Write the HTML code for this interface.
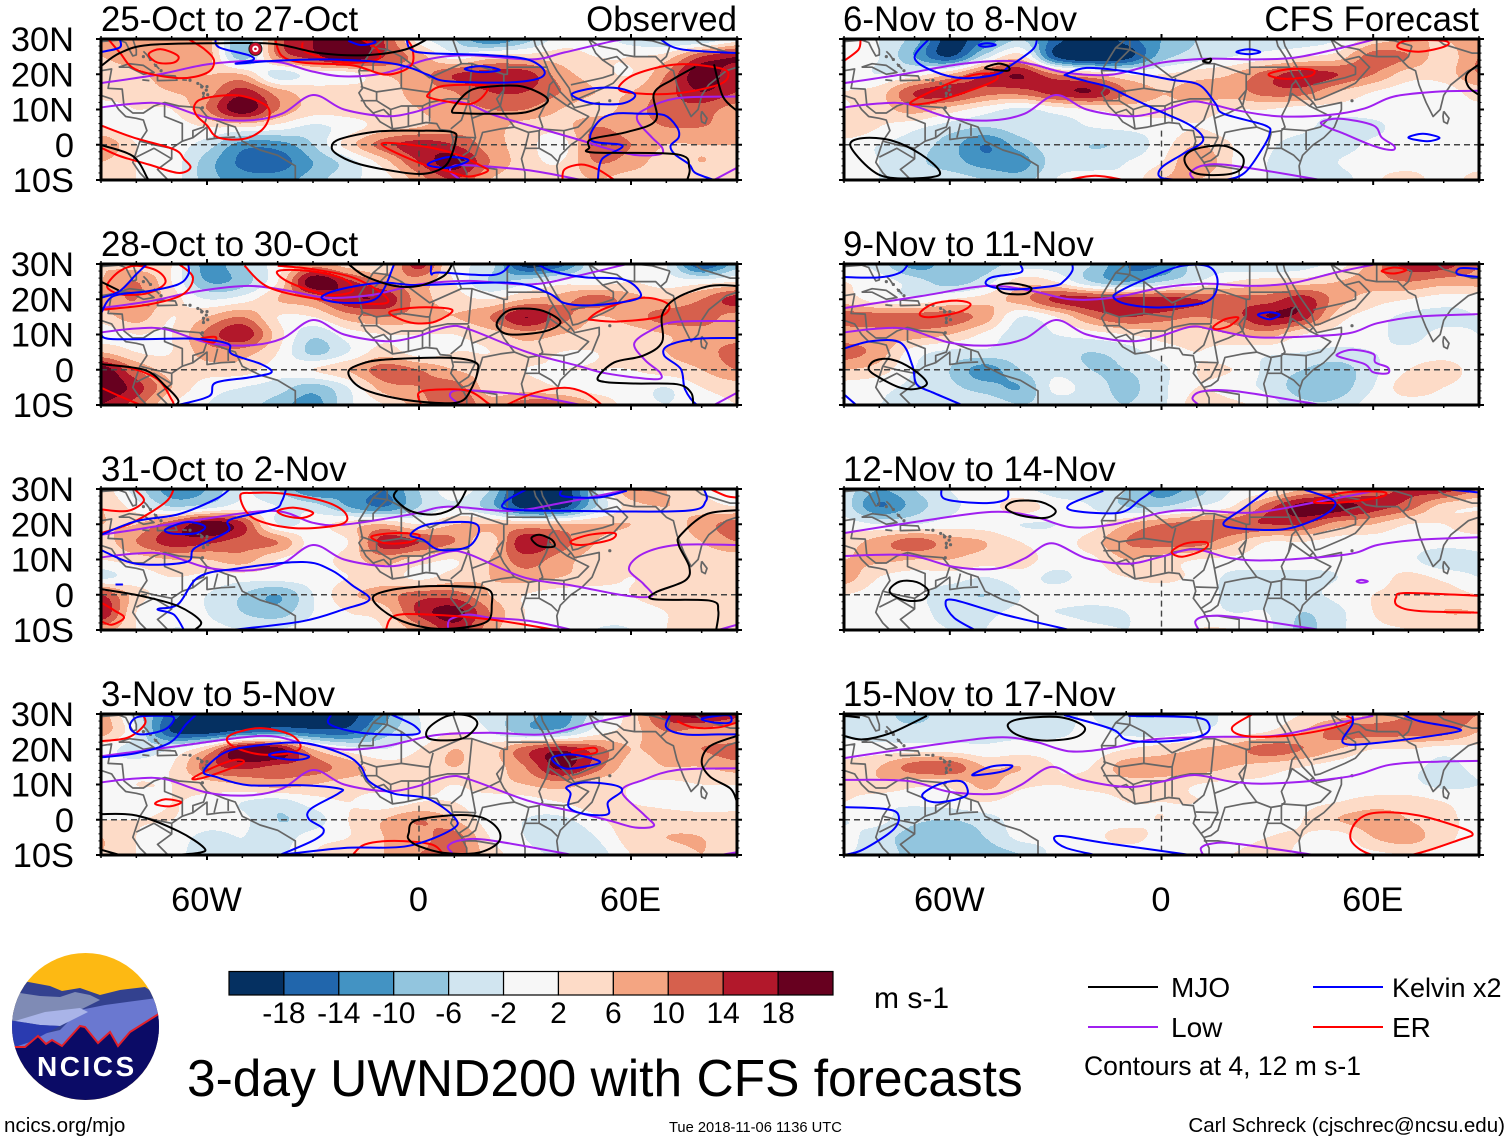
<!DOCTYPE html>
<html lang="en">
<head>
<meta charset="utf-8">
<title>3-day UWND200 with CFS forecasts</title>
<style>
html,body{margin:0;padding:0;background:#fff;}
svg{display:block;}
text{font-family:"Liberation Sans",Arial,sans-serif;fill:#000;}
</style>
</head>
<body>
<svg id="chart" xmlns="http://www.w3.org/2000/svg" width="1510" height="1142" viewBox="0 0 1510 1142">
<rect x="0" y="0" width="1510" height="1142" fill="#fff"/>
<g id="panels"></g>
<g font-size="34.8">
<text x="101" y="31">25-Oct to 27-Oct</text>
<text x="101" y="256">28-Oct to 30-Oct</text>
<text x="101" y="481">31-Oct to 2-Nov</text>
<text x="101" y="706">3-Nov to 5-Nov</text>
<text x="843" y="31">6-Nov to 8-Nov</text>
<text x="843" y="256">9-Nov to 11-Nov</text>
<text x="843" y="481">12-Nov to 14-Nov</text>
<text x="843" y="706">15-Nov to 17-Nov</text>
<text x="737" y="31" text-anchor="end">Observed</text>
<text x="1479" y="31" text-anchor="end">CFS Forecast</text>
</g>
<g id="colorbar"></g>
<text x="874" y="1008" font-size="30">m s-1</text>
<g>
<clipPath id="logoClip"><circle cx="85.5" cy="1026.5" r="73.5"/></clipPath>
<g clip-path="url(#logoClip)">
<rect x="5" y="950" width="160" height="155" fill="#fdb913"/>
<path d="M5,990 L23,981 L50,986 L62,991 L80,988 L100,995 L120,990 L145,987 L165,1000 L165,1040 L5,1040Z" fill="#33418f"/>
<path d="M10,1000 L20,993 L40,996 L60,997 L75,992 L90,995 L100,1000 L80,1010 L40,1020 L10,1025Z" fill="#7f8bb5"/>
<path d="M80,1010 L105,1005 L157,998 L165,1010 L165,1060 L10,1060 L17,1040 L60,1030Z" fill="#6a78d0"/>
<path d="M15,1021 L45,1012 L80,1008 L88,1012 L60,1026 L40,1025Z" fill="#a9b4e8"/>
<path d="M8,1020 L15,1021 L40,1025 L60,1026 L30,1042 L15,1047 L8,1045Z" fill="#2a3bb0"/>
<path d="M8,1047 L25,1047 L38,1036 L46,1044 L52,1040 L62,1046 L80,1026 L85,1027 L98,1043 L110,1032 L118,1046 L130,1032 L165,1010 L165,1105 L8,1105Z" fill="#0b0b66"/>
<path d="M8,1047 L25,1047 L38,1036 L46,1044 L52,1040 L62,1046 L80,1026 L85,1027 L98,1043 L110,1032 L118,1046 L130,1032 L165,1010" fill="none" stroke="#e3202a" stroke-width="2"/>
</g>
<text x="37" y="1076" font-size="28" font-weight="bold" letter-spacing="2.5" style="fill:#fff">NCICS</text>
</g>
<text x="187" y="1096" font-size="51.5">3-day UWND200 with CFS forecasts</text>
<g>
<line x1="1088" y1="987" x2="1158" y2="987" stroke="#000" stroke-width="2"/>
<text x="1171" y="997" font-size="28">MJO</text>
<line x1="1313" y1="987" x2="1383" y2="987" stroke="#0000ff" stroke-width="2"/>
<text x="1392" y="997" font-size="27">Kelvin x2</text>
<line x1="1088" y1="1027" x2="1158" y2="1027" stroke="#a020f0" stroke-width="2"/>
<text x="1171" y="1037" font-size="28">Low</text>
<line x1="1313" y1="1027" x2="1383" y2="1027" stroke="#ff0000" stroke-width="2"/>
<text x="1392" y="1037" font-size="28">ER</text>
<text x="1084" y="1075" font-size="27" textLength="277" lengthAdjust="spacingAndGlyphs">Contours at 4, 12 m s-1</text>
</g>
<text x="4" y="1132" font-size="20.6">ncics.org/mjo</text>
<text x="669" y="1132" font-size="14.7">Tue 2018-11-06 1136 UTC</text>
<text x="1505" y="1132" font-size="20.55" text-anchor="end">Carl Schreck (cjschrec@ncsu.edu)</text>
</svg>
<script>
const gridLons = [-90,-80,-70,-60,-50,-40,-30,-20,-10,0,10,20,30,40,50,60,70,80,90];
const gridLats = [30,25,20,15,10,5,0,-5,-10];
const levels = [-18,-14,-10,-6,-2,2,6,10,14,18];
const levelColors = ['#053061','#2166ac','#4393c3','#92c5de','#d1e5f0','#f7f7f7','#fddbc7','#f4a582','#d6604d','#b2182b','#67001f'];
const latTickLabels = ['30N','20N','10N','0','10S'];
const latTickValues = [30,20,10,0,-10];
const lonTickLabels = ['60W','0','60E'];
const lonTickValues = [-60,0,60];

const windOct25 = [
[8,6,8,8,-10,12,18,20,14,0,-6,-14,-8,0,0,-4,-6,-6,0],
[6,8,8,8,-8,10,16,22,14,8,0,4,4,4,2,2,4,14,18],
[4,5,8,6,6,-4,0,0,6,8,14,16,16,8,4,2,10,21,14],
[4,4,6,8,16,8,4,5,4,8,10,14,14,10,6,6,12,18,14],
[0,2,2,10,21,10,4,4,4,6,8,10,10,6,4,8,12,12,8],
[2,0,0,2,2,0,-3,0,4,6,8,8,4,4,10,8,10,10,8],
[10,2,0,-4,-12,-12,-6,4,12,16,14,8,4,0,12,10,6,6,6],
[6,2,0,-8,-15,-16,-10,-4,4,14,20,10,4,2,10,8,4,6,4],
[4,2,0,-8,-12,-12,-8,-3,0,8,14,6,4,4,6,4,4,4,6]];
const windOct28 = [
[6,4,2,-12,-6,0,8,4,2,16,0,-4,-20,-16,-2,2,-2,-18,-8],
[6,10,2,-10,-8,2,21,15,10,8,2,-6,-4,0,0,2,0,0,2],
[8,10,4,-2,0,6,10,17,17,8,4,2,6,8,12,8,6,10,16],
[4,8,2,6,10,2,2,8,10,8,6,10,18,12,6,8,12,12,8],
[0,2,2,11,17,4,-5,0,2,2,2,4,8,6,4,4,6,8,8],
[6,2,2,8,8,2,-7,-2,4,0,2,2,4,2,2,4,6,8,12],
[21,10,4,4,4,0,2,6,12,10,6,4,2,2,2,2,4,6,10],
[22,16,6,0,-2,-4,-8,-2,8,10,12,4,4,2,0,0,-2,2,4],
[18,12,2,-2,-4,-8,-12,-3,2,8,14,8,12,12,6,0,-2,0,2]];
const windOct31 = [
[4,-4,-12,-10,-2,-6,-14,-10,-14,-6,0,-6,-22,-22,-6,10,6,2,-2],
[6,0,-6,-4,0,-2,-4,-10,-14,-6,-2,-8,-20,-20,-6,4,6,4,2],
[6,6,13,21,15,-2,0,4,6,2,6,6,6,6,6,6,4,8,12],
[4,10,16,15,12,10,0,2,16,14,10,4,17,12,6,4,4,6,10],
[2,4,6,6,8,2,0,4,8,4,2,6,12,8,4,4,4,4,4],
[-3,0,2,1,0,0,0,2,4,1,4,6,8,6,4,2,4,4,6],
[14,4,0,-2,-6,-10,-2,5,8,12,12,6,2,0,0,2,4,4,4],
[18,2,-1,-2,-6,-8,-2,2,4,15,20,10,2,0,0,0,2,4,4],
[8,2,-2,-1,-2,-2,0,0,2,8,16,8,2,2,-2,-2,2,4,4]];
const windNov3 = [
[8,-4,-16,-22,-22,-22,-22,-20,-12,-2,0,-4,-8,-12,-4,4,16,20,16],
[8,-2,-18,-20,-16,-14,-16,-16,-8,-2,2,-2,-8,-8,0,4,10,8,6],
[0,-4,-2,6,21,20,6,0,-2,2,6,4,12,17,12,6,8,10,12],
[0,0,2,12,15,13,12,8,4,4,6,4,10,19,12,4,6,6,8],
[0,2,2,4,6,8,6,4,4,4,2,4,6,8,4,2,1,2,2],
[-1,0,2,1,-2,-4,0,2,0,2,2,0,0,2,4,2,1,0,0],
[2,2,2,0,-1,-6,-4,2,6,10,6,0,-2,-3,1,4,4,4,4],
[6,2,0,-3,-2,-4,0,2,6,8,12,2,-2,-6,-2,4,6,6,4],
[6,2,-1,-3,-2,-3,2,6,6,10,12,4,0,-3,-4,2,4,6,4]];
const windNov6 = [
[2,-2,-8,-20,-14,-6,-16,-22,-16,-10,-6,-4,-4,-4,-2,4,6,6,8],
[0,-2,-10,-18,-4,4,-18,-24,-20,-8,-4,-2,0,2,4,12,10,4,10],
[0,-2,0,6,14,18,10,6,2,2,4,6,12,16,14,10,4,4,10],
[2,4,14,16,12,12,16,18,10,6,8,8,12,12,6,2,0,0,4],
[2,4,8,4,0,-3,0,2,4,4,4,2,2,0,0,0,0,1,1],
[6,2,-1,-4,-6,-4,-4,-2,-1,0,2,0,0,-1,-4,-3,0,0,0],
[0,-2,-4,-8,-14,-8,-4,-6,-5,0,6,2,-1,-4,-4,-1,0,0,0],
[0,-2,-5,-8,-12,-12,-4,-4,-2,2,10,2,-2,-6,-2,0,0,0,0],
[-1,-2,-4,-4,-6,-8,-2,0,-1,6,6,2,-2,-4,-4,1,4,0,4]];
const windNov9 = [
[0,-4,-12,-8,-8,-4,-4,-6,-14,-14,-4,-4,-6,-4,0,8,16,16,10],
[2,0,-4,-8,-4,4,2,-6,-10,-6,-2,2,4,4,6,8,10,8,8],
[4,0,-1,2,4,8,15,16,16,16,14,12,12,16,8,4,2,0,0],
[12,12,12,12,8,-2,2,10,14,12,10,12,18,16,4,0,-3,-3,-2],
[8,8,8,6,1,-4,-2,0,2,4,4,6,8,2,0,-1,-3,-1,-2],
[12,8,0,-3,-3,-4,-4,-6,-4,0,2,0,-1,-2,-3,-2,-1,0,-1],
[6,4,-2,-6,-12,-6,-3,-6,-6,-3,2,2,-3,-6,-8,-3,2,4,0],
[0,-1,-3,-5,-8,-10,-1,-4,-7,-3,2,0,-3,-8,-8,-2,4,2,0],
[-2,-2,-3,-3,-3,-6,-4,-4,-6,-3,4,3,0,-5,-5,0,0,0,0]];
const windNov12 = [
[-4,-10,-6,-2,0,-1,-4,-4,-6,-12,-8,-2,0,6,8,12,15,16,10],
[-4,-14,-8,-3,0,4,0,-2,-6,-6,-2,2,12,20,20,16,12,4,2],
[0,-2,-2,0,0,-2,-2,0,6,10,12,13,14,14,8,6,2,2,4],
[4,8,12,8,6,2,0,4,10,12,12,7,2,2,0,0,0,0,0],
[6,7,6,6,4,4,0,1,6,4,2,1,0,0,-1,0,-1,-5,-3],
[8,2,0,0,-2,0,-3,0,2,3,1,-3,-3,-3,-2,0,3,1,-2],
[2,0,-1,-4,-6,-2,0,0,0,0,0,-3,-3,-3,-1,2,3,4,2],
[0,0,-1,-3,-3,-1,-2,-3,-2,0,0,-2,-2,-6,-3,2,4,6,6],
[0,0,-1,-2,-2,1,2,-1,-2,-1,2,2,-1,-7,-3,1,2,3,2]];
const windNov15 = [
[-3,-4,-8,-3,-4,-3,-3,-2,-6,-6,-4,-1,0,2,4,6,10,14,10],
[-3,-4,-4,-3,-3,-3,-3,-1,-3,-4,-2,0,2,6,12,12,12,12,6],
[0,0,0,0,-1,0,0,0,2,4,6,8,12,10,6,2,2,0,1],
[3,6,12,13,6,6,2,2,8,8,8,6,4,2,0,-1,-1,-3,-1],
[3,5,3,3,7,3,2,3,4,4,2,1,1,0,-1,-1,-1,-3,-2],
[2,-1,-1,0,2,0,0,0,2,2,2,0,0,1,2,4,4,2,0],
[-2,-1,-5,-6,-4,0,0,1,1,2,0,0,1,2,6,8,6,3,1],
[-1,-4,-8,-8,-6,-1,-1,1,3,1,0,0,2,2,0,6,8,3,1],
[-2,-3,-8,-8,-8,-6,-1,0,0,0,0,2,4,1,0,1,2,1,1]];

const lowCore = [[-90,10.6],[-80,11.7],[-71.8,11.5],[-60,7.7],[-48.2,6.9],[-38.8,8.8],[-30,14.1],[-21.2,10],[-9.4,8.1],[-1.2,9.3],[8.2,12.2],[14.1,11.5]];
const lowSouth = [[11.8,-10],[8.8,-7.5],[10.6,-5.8],[18.8,-6.1],[32.9,-7.5],[45.9,-10]];
const lowSouthEast = [[83.5,-10],[90,-6.5]];

const lowOct25 = [
[[-90,17.5],[-74,19.9],[-60,22.8],[-47,23.8],[-38.8,23.3],[-30.6,20.9],[-21.2,19.4],[-9.4,20.4],[2.4,24.2],[14,25.4],[31.8,24.2],[41.2,26.2],[55.3,29.5],[60,30]],
[...lowCore,[21.2,8.4],[32.9,5],[46,1.2],[53,-1],[61.2,-2.9],[68.2,-2.7],[68.8,-0.8],[65.9,2.1],[61.8,6.9],[63.5,9.8],[73,13.2],[90,13.7]],
lowSouth,lowSouthEast];
const lowOct28 = [
[[-90,17.5],[-76.5,19.4],[-62.4,22.3],[-48.2,23.8],[-36.5,22.3],[-25.9,20.4],[-12.9,21.3],[0,24.2],[14.1,25.2],[31.8,24.2],[44.7,26.6],[58.8,30]],
[...lowCore,[30.6,5],[44.7,1.2],[52.9,-1],[67,-2.7],[68.2,-0.8],[64.1,2.6],[60.9,7.4],[65.9,11.3],[72.9,13.6],[90,13.8]],
lowSouth,lowSouthEast];
const lowOct31 = [
[[-90,17],[-80,18.5],[-62.4,21.3],[-41.2,23.8],[-30,20.4],[-21.2,19.9],[-2.4,22.8],[8.2,25],[25.9,23.8],[41.2,26.2],[57.6,29.5],[60,30]],
[...lowCore,[29.4,5],[43.5,2.6],[58.8,-0.3],[65.9,-0.3],[63.5,3.1],[59.4,7.4],[63.5,11.7],[73,14.1],[90,14.1]],
[[8.2,-9.4],[8.8,-7],[14,-5.6],[20,-6.5],[31.8,-7.5],[43.5,-10]],[[84.7,-10],[90,-8.5]]];
const lowNov3 = [
[[-90,18],[-68.2,20.9],[-44.7,23.8],[-32.9,21.8],[-21.2,19.9],[-9.4,20.9],[4.7,24],[20,24.7],[35.3,24.2],[49.4,27.6],[60,29.7]],
[...lowCore,[30.6,5.5],[44.7,2.1],[54.1,-0.3],[61.2,-2.2],[66.5,-1.7],[63.5,1.6],[57.4,8.1],[63.5,11.3],[73,14.1],[90,14.6]],
[[9.4,-9.4],[8.2,-7.5],[11.8,-5.8],[20,-5.8],[43.5,-10]],[[85.3,-10],[90,-9.2]]];
const lowNov6 = [
[[-90,17.5],[-74,19.9],[-57.6,22.8],[-44.7,23.8],[-36.5,22.8],[-27,20.4],[-14,19.9],[0,23.3],[12.9,24.4],[25.9,24.2],[37.6,24.7],[49.4,27.1],[60,29.8]],
[...lowCore,[21.2,9.8],[32.9,8.1],[47,8.4],[57.6,10.3],[65.9,13.7],[78.8,15.1],[90,15.3]],
[[45.3,6.4],[50.6,7.4],[60,5.5],[62.4,2.1],[65.9,-0.3],[65.3,-1.5],[60,-0.3],[51.8,3.1],[47,5]],
[[9.4,-10],[8.2,-8],[11.8,-5.9],[20,-5.9],[45.3,-10]]];
const lowNov9 = [
[[-90,17.5],[-68.2,20.9],[-49.4,23.8],[-36.5,22.3],[-25.9,20],[-14,20.4],[0,23.3],[11.8,24.4],[25.9,23.8],[37.6,24.7],[49.4,27.6],[60,29.8]],
[...lowCore,[25.9,9.3],[37.6,9.3],[52.9,10.3],[61.2,13.2],[72.9,15.1],[90,15.8]],
[[50,4.5],[54.1,5.7],[60,4.5],[60.6,2.1],[64.1,0.7],[64.1,-1],[60,-0.7],[57.6,1.6],[50.6,3.6]],
[[10.6,-10],[8.8,-8],[11.8,-6.1],[21.2,-6.1],[45.3,-10]]];
const lowNov12 = [
[[-90,17.5],[-68.2,20.9],[-48.2,23.5],[-36.5,22.3],[-25.9,19.2],[-14,19.9],[0,23.3],[9.4,24],[25.9,23.3],[43.5,26.2],[60,29.4]],
[[-90,11],[-71.8,11.2],[-58.8,7.9],[-47,7.4],[-38.8,10.3],[-31.2,14.6],[-21.2,10.3],[-9.4,8.8],[0,10.8],[9.4,12.9],[20,10.3],[31.8,9.8],[52.9,11.5],[61.2,14.1],[72.9,15.6],[90,16.3]],
[[55.3,3.8],[56.7,4.2],[58.5,3.8],[56.7,3.4]],
[[10.6,-10],[9.6,-7.5],[12.9,-6.1],[21.2,-6.4],[45.3,-10]]];
const lowNov15 = [
[[-90,17.5],[-74,19.9],[-48.2,23.3],[-36.5,22.3],[-25.9,19.4],[-14,20.4],[-2.4,22.8],[14,23.5],[31.8,23.8],[45.9,26.6],[60,29.5]],
[[-90,11.3],[-71.8,11],[-60,7.9],[-47,7.4],[-40,9.8],[-31.2,15],[-22.4,11.3],[-9.4,9.3],[0,10.8],[9.4,12.7],[20,10.8],[31.8,10.3],[52.9,12.2],[64.7,15.6],[78.8,16.5],[90,16.7]],
[[11.8,-10],[11.2,-8],[14.1,-6.8],[21.2,-6.8],[43.5,-10]]];

const mjoOct25 = [
[[-90,22.3],[-84.7,26],[-76.5,28.3],[-56.5,28.8],[-41,28.6],[-28,26],[-15,25.4],[-4,27],[2.4,30]],
[[-24.7,-0.8],[-22.4,1.6],[-11.8,3.75],[0,4],[9.4,3.6],[10.4,1.2],[8.2,-5.1],[4.7,-7.5],[0,-8.3],[-7,-7.5],[-16.5,-5.6],[-22.4,-3.2]],
[[9.4,9.8],[14,15.1],[20,16.5],[29.4,16.5],[36.5,12.7],[30.6,9.3],[21.2,8.8],[11.8,9]],
[[78.2,22.1],[71.8,18.5],[66.5,14.6],[67,6.9],[58.8,3.6],[48.8,1.6],[48.2,-0.8],[49.4,-2.2],[73,-2.7],[76.5,-6.5],[75.9,-10]],
[[83.5,22.8],[86,13.7],[90,9.6]],
[[-90,-0.1],[-81,-3.2],[-76.9,-9.4],[-76.9,-10]]];
const mjoOct28 = [
[[-20,30],[-15.3,26.6],[-7,23.8],[0,23.8],[7,26.6],[9.4,30]],
[[22.4,14.1],[25.9,17],[32.9,17.2],[37.6,15.6],[40,13.2],[35.3,10.8],[25.9,10],[22.4,11.7]],
[[-20,-0.8],[-16.5,1.6],[-9.4,2.9],[8.2,3.4],[15.9,2.1],[16.5,-0.8],[14.7,-5.6],[11.8,-9],[4.7,-9.4],[-7,-8],[-16.5,-5.1]],
[[90,23.8],[82.4,23.8],[73,20.4],[68.8,15.6],[68.8,7.9],[63.5,4],[55.3,2.1],[50.6,-2.2],[52.9,-3.5],[61.2,-3.9],[73,-4.1],[77,-6.5],[77.6,-10]],
[[-90,1.6],[-77.6,-0.1],[-71.8,-4.6],[-68.2,-8.5],[-68.8,-10]],
[[-90,25],[-85,22.5]]];
const mjoOct31 = [
[[-5.9,30],[-7,27.6],[-2.4,23.8],[4.7,22.8],[10.6,25.2],[13.5,30]],
[[31.8,16],[34.1,17],[37.6,15.6],[38.2,13.7],[34.1,13.8]],
[[-12.9,-1.7],[-10.6,0.7],[0,2.3],[14,2.3],[20,1.2],[20.6,-2.7],[19.4,-7.5],[11.8,-9.4],[2.4,-9.4],[-7,-6.5]],
[[90,24],[81.2,22.8],[74.1,17],[73.5,14.1],[76.5,7.9],[75.3,4],[67,0.7],[66.5,-1.3],[82.4,-1.7],[84.7,-4.6],[84.1,-10]],
[[-90,1.6],[-78.8,-0.3],[-68.2,-3.2],[-61.8,-7.5],[-63.5,-10]]];
const mjoNov3 = [
[[2.4,23.3],[2.9,26.2],[8.2,29.5],[14,29.5],[16.5,27.1],[12.9,23.3],[7,22.5]],
[[90,23.8],[82.4,20.9],[80,16.5],[82.4,12.2],[88.2,8.8],[90,5]],
[[-90,1.6],[-80,1.2],[-68.2,-3.2],[-60.8,-8],[-62.4,-9.4],[-69.4,-10]],
[[-90,-8.5],[-84.7,-10]],
[[-2.9,-3.7],[-1.2,-0.3],[9.4,1.3],[17.6,0.7],[22.4,-2.7],[22.4,-6.5],[16.5,-9.4],[7,-9.4],[0,-7.5],[-2.9,-5.6]]];
const mjoNov6 = [
[[-88.2,-0.3],[-84.7,1.9],[-76.5,1.2],[-68.2,-2.7],[-62.9,-7.5],[-65.3,-9.2],[-76.5,-9.4],[-82.4,-7]],
[[6.5,-4.1],[9.4,-1.3],[17.6,-0.3],[22.9,-3.2],[22.4,-7],[17.6,-8.5],[9.4,-8]],
[[-50,21.8],[-46.5,23],[-43.5,22.3],[-43.5,21],[-47.6,21.3]],
[[11.8,23.8],[14,24.4],[13.5,23.3]],
[[90,22.8],[86.5,19.9],[87,16.5],[90,14.1]]];
const mjoNov9 = [
[[-46.5,23.8],[-42.4,24.5],[-37,23.3],[-38.8,21.5],[-44.7,21.8]],
[[-83,0.2],[-81.2,2.6],[-76.5,2.9],[-70.6,0.2],[-66.5,-3.7],[-69.4,-5.4],[-74,-5.1],[-80,-2.2]]];
const mjoNov12 = [
[[-44.1,24.7],[-41.2,26.6],[-34.1,26.3],[-30,23.8],[-32.9,21.8],[-40,22.5]],
[[-77,1.6],[-74,3.8],[-69.4,3.6],[-66.1,1.2],[-67.5,-1.3],[-71.8,-1.7],[-75.9,-0.3]]];
const mjoNov15 = [
[[-90,23.8],[-84.7,22.8],[-76.5,24.7],[-66.5,29.5]],
[[-90,29.5],[-85.5,29]],
[[-43.5,27.1],[-38.8,28.8],[-28.2,29],[-21.8,26.2],[-24.7,23.3],[-34.1,22.5],[-41.2,24.2]]];

const erOct25 = [
[[-88,30],[-84.7,26.2],[-80,21.3],[-68,18.9],[-60,20.4],[-58,23.8],[-60.6,27],[-65.3,30]],
[[-76.5,25.7],[-73,27.1],[-68.2,25.2],[-69.4,23.3],[-74,23.3]],
[[-40.6,29.5],[-38.8,25.2],[-33,23.3],[-18.8,22.5],[-9.4,19.9],[-2.4,22.3],[-1.8,27.1],[-3.5,30]],
[[-33,29],[-31.8,26.2],[-21.2,23.3],[-11.8,24.2],[-11.8,27.1],[-16.5,30]],
[[-63.5,11.3],[-60.6,13.2],[-51.2,14],[-43.5,11.3],[-42.4,7.9],[-44.7,4],[-50,1.6],[-57,2.1],[-60,5.5],[-63,8.4]],
[[-90,5.5],[-81,2.1],[-69.4,-1.3],[-66.5,-4.1],[-64.7,-6.5],[-68.2,-8],[-76.5,-5.6],[-84.7,-3.2],[-90,-0.8]],
[[2.4,14.1],[5.9,16.5],[14,17],[19.4,16.5],[17.6,13.2],[14,11.5],[8.2,12.2],[3.5,13.2]],
[[-10.6,0.2],[0,-0.3],[10.6,-2.7],[17.6,-6],[19.4,-7.5],[14,-9],[8.2,-7.5],[0,-5.1]],
[[56.5,16],[61.2,20],[73,22.8],[84.7,21.8],[87.6,19.9],[84.7,17],[73,14.6],[61.2,14.6]],
[[40.6,-10],[41.2,-7],[45.9,-5.6],[50.6,-7],[55.3,-10]]];
const erOct28 = [
[[-88.2,24.2],[-84.7,28],[-80,29.5],[-74,28],[-71.8,24.7],[-76.5,21.8],[-83.5,21.3],[-87,22.3]],
[[-68,30],[-64,26.2],[-67,21.3],[-76.5,18.5],[-90,17]],
[[-49.4,29.5],[-42.4,23.3],[-28.2,20],[-10.6,18.7],[-10,21.3],[-18.8,26.2],[-30.6,28.6],[-40,29.5]],
[[-40,28],[-36.5,24.7],[-25.9,21.3],[-18.8,22.3],[-21.2,25.7],[-30.6,28]],
[[-8.2,16.5],[0,17.7],[9.4,17],[4.7,13.7],[-1.2,13.2],[-5.9,14.6]],
[[48.2,14.6],[52.9,17.5],[63.5,20.4],[70.6,18.5],[68.2,15.1],[56.5,13.7],[49.4,14.1]],
[[-61.8,8.8],[-57.6,9.3],[-58.2,7.7]],
[[-90,1.6],[-82.4,0.7],[-74,-2.7],[-70,-8.5],[-69.4,-10]],
[[-90,-5.1],[-84.7,-7.5],[-78.8,-10]],
[[0.6,-10],[0,-6.5],[5.9,-5.6],[14,-6],[19.4,-9.4],[20,-10]],
[[24.7,-10],[32.9,-6.5],[41.2,-5.1],[47,-6.5],[51.8,-10]]];
const erOct31 = [
[[-90,24.2],[-82.4,23.8],[-77.9,26.6],[-80,29.5],[-81,30]],
[[-90,17.5],[-81.2,20.4],[-71.8,26.2],[-69.4,30]],
[[-50.6,28],[-47,21.8],[-35.3,18.9],[-22.4,19.9],[-20.6,22.8],[-25.9,26.2],[-37.6,28.6],[-47,28.9]],
[[-40,23.8],[-35.3,24.7],[-30,23.3],[-32.9,21.8],[-37.6,22.3]],
[[-13.5,16.5],[-7,17.5],[0,17],[-2.4,15],[-9.4,14.6]],
[[42.9,15.1],[48.2,17],[55.3,17.5],[54.1,15.6],[45.9,14.1]],
[[-90,-2.2],[-86,-4.6],[-83.5,-6.5],[-87,-8.5],[-90,-7.5]],
[[-9.4,-10],[-7,-6],[2.4,-5.6],[20,-7],[38.8,-10]],
[[82.4,30],[87,28],[90,27.6]]];
const erNov3 = [
[[-90,22.3],[-82.4,23.3],[-77.6,27.1],[-78.2,30]],
[[-54.4,22.8],[-51.8,24.7],[-44.7,26],[-36.5,24.2],[-33.5,20.9],[-36.5,18.9],[-44.7,18.5],[-51.8,20.4]],
[[-64.1,11.7],[-60,12.2],[-50,16],[-51.8,17],[-57.6,15.1]],
[[-74.7,4.5],[-71.8,5.8],[-67.3,5],[-70.6,3.8]],
[[-18.8,-10],[-15.3,-7],[-7,-6],[3.5,-7],[7,-10]],
[[43.5,19.4],[49.4,20.4],[50,19],[45,18.5]],
[[73,28],[77.6,26.2],[84.7,26.2],[90,27.6]]];
const erNov6 = [
[[-90,23.8],[-85.9,27],[-85.3,30]],
[[-71.2,11.9],[-61.2,17],[-52.9,19.9],[-47,19.9],[-47.6,18],[-56.5,14.6],[-65.9,11.9]],
[[30.6,20.2],[36.5,21.5],[42.9,21.2],[42.4,19.6],[36.5,18.7],[31.8,19.2]],
[[67,27.6],[69.4,29.5],[80,29.5],[80.6,28],[73,26.4]],
[[-26.5,-10],[-18.8,-8.8],[-10.6,-10]]];
const erNov9 = [
[[-68.5,16],[-64.7,18.7],[-57.6,19.6],[-54.1,18.5],[-57.6,16.3],[-65.9,14.9]],
[[14.7,12.2],[18.2,14.4],[21.8,14.8],[19.4,12.5],[15.9,11.5]],
[[62.4,28],[65.9,29],[69.4,28.3],[65.9,27.3]]];
const erNov12 = [
[[2.9,12.2],[7,14.6],[12.9,14.8],[11.8,12.7],[5.9,10.8]],
[[43.5,26.6],[51.8,29],[62.4,29.2],[62.9,28],[55.3,26.6],[45.9,26]],
[[90,-5.1],[73,-4.6],[67,-3.2],[66.5,-0.8],[69.4,0.5],[90,-0.3]]];
const erNov15 = [
[[25.9,30],[20,26.2],[23.5,23.8],[35.3,23.8],[47,25.7],[54.1,28],[52.4,29.5]],
[[54.1,-2.2],[57.6,1.2],[63.5,2.1],[73,1.2],[84.7,-2.2],[88.2,-4.1],[84.7,-5.6],[70.6,-10],[60,-10],[54.1,-6.5]]];

const kelvinOct25 = [
[[-90,26.3],[-84.7,27.6],[-84.7,30]],
[[-57.6,30],[-56.5,27.6],[-48.2,25.4],[-47,24],[-51.8,23],[-41.2,23.8],[-25.9,24.2],[-9.4,23.3],[-2.4,21.8],[2.4,19.9],[8.2,18],[25.9,17.7],[34.1,18.9],[35.3,21.3],[30.6,24.2],[20,25.4],[2.4,26],[-2.4,27.1],[-3.5,30]],
[[12.9,21.5],[17.6,22.3],[22.9,21.2],[17.6,20.6]],
[[-20,29.5],[-16.5,28.3],[-12.4,29],[-13.6,30]],
[[43.5,14.6],[49.4,16],[56.5,16],[61.2,14.1],[57.6,11.7],[49.4,11.7],[44.7,13.2]],
[[68.2,30],[74.1,27.1],[90,26]],
[[83.5,-10],[78.2,-8],[76.5,-5.6],[72.4,-2.7],[71.2,-0.3],[73.5,2.1],[73,5],[69.4,8.4],[62.4,8.8],[55.3,8.8],[50.6,6.4],[48.8,1.2],[57.6,-0.3],[51.8,-4.1],[50.6,-10]],
[[2.4,-5.6],[8.2,-3.5],[14,-4.4],[8.2,-6.5]]];
const kelvinOct28 = [
[[-90,20.4],[-84.7,22.3],[-80,27.1],[-77,30]],
[[-90,16],[-86.5,20.9],[-76.5,22.3],[-68.2,24.2],[-65.3,27],[-65.3,30]],
[[-90,10.3],[-88,8.8],[-76.5,8.7],[-63.5,8.8],[-54.1,7.4],[-53,4.5],[-44.7,1.6],[-41.8,-0.8],[-48.2,-2.2],[-57.6,-3.7],[-59.4,-7.5],[-68.2,-10]],
[[-7,30],[-11.8,20.4],[-21.2,19],[-27.6,20.4],[-22.4,22.8],[-10.6,24.7],[0,24],[25.9,24.7],[36.5,21.8],[41.2,18.9],[49.4,18.3],[61.2,19.9],[62.4,22.3],[57.6,25.7],[47,26.2],[37.6,28],[33.5,30]],
[[3.5,30],[3.5,27.1],[5.9,27.6],[21.2,26.9],[25.9,30]],
[[90,9],[78.8,8.8],[70.6,6.9],[69.4,4],[74.1,0.2],[75.3,-5.6],[78.8,-10],[83.5,-10]]];
const kelvinOct31 = [
[[-90,17],[-80,20.9],[-68.2,22.8],[-57.6,27.1],[-53.5,30]],
[[-90,12.7],[-80,8.8],[-65.9,9.3],[-63.5,13.2],[-54.1,18],[-53.5,21.3],[-41.2,24.2],[-38.8,26.6],[-37.6,30]],
[[-71.8,18.5],[-65.7,20.6],[-60.6,19.4],[-63,17.5],[-69.4,17.3]],
[[-66.5,-10],[-69.4,-5.6],[-74,-4.1],[-68.2,-2.7],[-62.4,5],[-51.8,7.4],[-32.9,9.3],[-24.7,6.9],[-18.8,2.6],[-14,-1.3],[-21.2,-4.1],[-32.9,-7.5],[-52.9,-10]],
[[30.6,30],[24.1,26.2],[25.9,24.2],[43.5,23.8],[75.3,23.8],[81.2,26.6],[80.6,30]],
[[40.6,30],[40.6,28],[50.6,27.6],[58.8,29.5]],
[[-2.4,17],[2.4,19.9],[14,20.6],[17,18.5],[14,13.7],[5.9,12.7],[1.2,15.6]],
[[-85.9,2.9],[-83.8,2.9]]];
const kelvinNov3 = [
[[-90,17.7],[-80,18.9],[-70.6,21.8],[-65.9,27.1],[-62.9,30]],
[[-81.8,26.2],[-80,29],[-74,29.5],[-69.4,29],[-71.8,25.7],[-78.8,24.2]],
[[-24.7,30],[-25.3,27.1],[-16.5,24.7],[-1.2,24.2],[-1.2,26.6],[-8.2,30]],
[[-39.4,-10],[-21.2,-8],[-3.5,-7.5],[9.4,-2.7],[10,0.7],[2.4,6],[-7,7.4],[-14,10.8],[-16.5,15.1],[-21.2,18.5],[-32.9,21.8],[-47,20.9],[-55.3,18.9],[-60.9,13.8],[-57.6,12.2],[-48.2,9.8],[-32.9,9.8],[-22.4,8.8],[-22.9,7.4],[-30.6,3.1],[-31.2,0.2],[-27,-2.7],[-29.4,-5.6],[-39.4,-10]],
[[-42.4,18.5],[-37.6,19.4],[-31.2,18],[-34.1,17],[-40,17.5]],
[[37.6,17.5],[43.5,18.5],[51.2,16.5],[47,15.1],[41.2,14.6]],
[[71.2,30],[70,26.2],[75.3,24.2],[84.7,24.2],[90,24.2]],
[[80,28.6],[84.7,29.5],[88,29.5],[88,27.6],[83.5,27.6]],
[[41.8,9.3],[47,10.6],[55.3,9.8],[57.4,8.1],[53.5,5],[53.5,1.6],[47,1.6],[42.4,3.6],[42.9,7.4]]];
const kelvinNov6 = [
[[-65.9,30],[-70,24.7],[-64.7,20.9],[-56.5,18.9],[-47,19.9],[-43,22.3],[-36.5,27],[-35.3,30]],
[[-51.8,28.3],[-49.4,28.8],[-47,28.3],[-50,27.8]],
[[21.2,26.3],[24.7,27.1],[28,26.3],[24.7,25.7]],
[[-27,20],[-21.2,21.8],[-10.6,20.9],[2.4,18.5],[10.6,17],[15.3,11.7],[17.6,8.8],[29.4,5.5],[30.6,3],[28.2,-1.7],[23.5,-8],[17.6,-10],[8.2,-10],[0,-9.4],[0,-6.5],[5.9,-2.7],[11.8,1.2],[8.2,5.5],[-1.2,9.8],[-9.4,13.7],[-15.3,16.5],[-21.2,18],[-26.5,19.5]],
[[70,2],[74.1,3.1],[78.8,2],[75.3,1]]];
const kelvinNov9 = [
[[-90,26.3],[-80,26.2],[-74,27.6],[-71.8,30]],
[[-40,29.8],[-40,27.6],[-48.2,26.2],[-49.4,24],[-42.4,22.8],[-30.6,23.8],[-27.6,25.2],[-25.3,28],[-25.3,30]],
[[-13.5,20.4],[-11.8,22.3],[-2.4,26.6],[5.9,29.5],[13.5,29.2],[15.9,24.7],[12.9,19.4],[0,17.7],[-9.4,18.5]],
[[27.3,15.6],[30.6,16.3],[33.5,15.6],[30.6,14.3]],
[[90,28.6],[84.7,28.8],[84,27.1],[90,26.3]],
[[-90,6],[-82.4,8.1],[-74,7.7],[-70.6,1.2],[-69.4,-4.1],[-64.7,-6.5],[-56.5,-10]],
[[-90,-7],[-86.5,-10]]];
const kelvinNov12 = [
[[-62.4,30],[-61.2,27.1],[-50.6,26],[-44.1,27.1],[-43.5,30]],
[[-16.5,29.5],[-25.9,25.7],[-24.7,23.8],[-11.8,23.3],[-5.9,27.1],[-1.8,30]],
[[30.6,30],[23.5,24.7],[17.6,20.4],[21.2,18.9],[34.1,18.5],[43.5,21.3],[48.8,24.7],[48.2,27.1],[40,30]],
[[82.4,29.8],[90,29]],
[[-25.9,-10],[-44.7,-5.6],[-58.8,-1.5],[-61.2,-2.7],[-58.8,-6.5],[-52.9,-10]]];
const kelvinNov15 = [
[[-27.6,29.7],[-14,25.7],[-9.4,22.5],[2.4,22.3],[11.8,24],[13.5,27],[9.4,29],[-9.4,29.5]],
[[-53.5,12.9],[-48.2,15.1],[-42.4,15.4],[-44.7,13.8],[-51.8,12.7]],
[[-67.6,7.4],[-62.4,10.3],[-56.5,10.8],[-55.3,6.9],[-62.4,5],[-66.5,5.5]],
[[-90,3.6],[-78.8,3.1],[-74.7,1.6],[-75.9,-2.7],[-84.7,-8.5],[-90,-10]],
[[8.2,-10],[-16.5,-6.5],[-28.2,-4.6],[-30.4,-5.6],[-27,-8],[-18.8,-10]],
[[54.1,29.5],[54.1,27.1],[51.5,21.8],[61.2,21.8],[82.4,24.7],[83.5,26],[73,28],[68.2,30]]];

const coastlines = [
[[-90,29.3],[-85,29.7],[-83,29],[-82,27],[-81,25.2],[-80,25.5],[-80,27],[-81,30]],
[[-85,22],[-82,23],[-78,22.5],[-75,20.5],[-78,20],[-82,22],[-85,22]],
[[-74,19.8],[-69,19.5],[-68.5,18.3],[-74,18.2],[-74,19.8]],
[[-78.3,18.4],[-76.3,18.2]],[[-67,18.4],[-65.7,18.3]],[[-62,17.2],[-61,16.4]],[[-61,14.6],[-61,13.2]],[[-78,26.5],[-77,25.5],[-76,24]],[[-75,23],[-73.5,21.5]],
[[-90,21],[-87,21.5],[-88,16],[-84,15.8],[-83.5,11],[-81,9],[-78,9],[-75,11],[-72,12],[-68,11],[-62,10.5],[-60,8],[-55,6],[-52,5],[-50,1],[-45,-1.5],[-40,-3],[-35,-6],[-35,-10]],
[[-90,14],[-87,13],[-85,10],[-83,8],[-80,7.5],[-78,7],[-77,4],[-79,1],[-80,-2],[-81,-5],[-79,-8],[-77,-10]],
[[-72,12],[-72,8],[-67,6],[-67,1],[-70,-1],[-70,-4],[-74,-7],[-71,-10]],
[[-80,-3.5],[-75,-1],[-70,-4]],[[-79,1],[-75,0],[-70,-1]],
[[-60,8],[-61,5],[-64,4],[-64,2],[-67,1]],[[-57,6],[-58,2]],[[-54,5.5],[-54,2.5]],[[-64,2],[-60,5],[-60,1.5],[-56,2],[-52,2.2]],
[[-10,30],[-13,27.5],[-17,21],[-16,16],[-17,14.7],[-15,11],[-13,9],[-11,6.5],[-7.5,4.5],[-4,5],[2,6.3],[5,6],[6,4.3],[9,4],[9.7,1],[9,-1],[12,-5],[13.5,-8],[13.5,-10]],
[[39.5,-10],[39,-6],[40,-3],[43,0],[46,2],[49,5],[51,10],[51,12],[44,10.5],[43,12],[40,15],[37,20],[35,25],[33,28],[32.5,30]],
[[34.5,30],[35,28],[39,21],[42.5,16],[43.5,12.7],[45,13],[52,16],[55,17.5],[59,22],[56,25],[52,24],[50,26],[48,30]],
[[48,30],[51,28],[56,27],[58,25.5],[61,25],[67,25],[70,22],[72,21],[73,17],[75,12],[77,8],[79,10],[80,14],[82,17],[87,21],[90,22]],
[[80,9.5],[81.5,7.5],[81,6],[80,6.5],[79.8,8],[80,9.5]],
[[-9,27],[-5,25],[3,19],[12,23],[9.5,30]],[[-13,27.5],[-9,27],[-9,30]],[[-17,21],[-13,21],[-13,23],[-9,27]],
[[25,30],[25,20],[24,20],[24,15.5],[22,13],[24,9],[27,5],[31,3.5],[34,4],[35,5],[34,8],[36,12],[37,17],[38,18]],
[[25,22],[36.5,22]],[[24,20],[15,23],[12,23]],[[15,23],[14,13]],[[3,12],[8,13],[14,13]],[[3,6.5],[3,12]],
[[-5,25],[-5,16],[-12,15],[-16.5,16.5]],[[-12,15],[-12,12.5],[-16.5,12.5]],[[-12,12.5],[-8,10],[-5,11],[-3,11],[1,11],[3,12],[3,15],[4,19]],[[-5,16],[2,15],[3,15]],
[[-8,10],[-8,8],[-7.5,4.5]],[[-3,5],[-3,11]],[[1,11],[1,6]],[[-13,9],[-10,10],[-8,8]],
[[9,4.5],[12,7],[14,12.5],[15,7.5],[16,2]],[[9.7,2.2],[16,2],[14,-2],[11,-4]],[[15,7.5],[19,9],[23,11],[24,15.5]],
[[12,-5],[14,-4.5],[16,-3],[18,3.5],[23,4.5],[27,5]],[[12,-6],[16,-6],[22,-7],[22,-10]],[[30,-1],[31,3],[31,3.5]],[[30,-1],[29,-4],[30,-8],[30,-10]],
[[30,-1],[34,-1],[37.5,-3],[39.2,-4.7]],[[34,4],[34,-1]],[[34,4.5],[41,4],[41,-1.5]],[[41,4],[45,5],[48,8],[42,11]],[[36,12],[37,14.5],[42,11],[43,12]],
[[43,17],[52,19],[55,20],[55,22],[52,24]],[[61,30],[61,25]],[[71,28],[70,25],[68.5,23.7]],[[74,33],[78,30],[80,28.5],[88,26],[90,26]],[[61,30],[66,29.5],[71,28]]];
const smallIslands = [[54,12.5],[-61,14.6],[-61,13.4],[-61.5,16.4],[-62.6,17.4],[-64.8,18.3],[-61.3,10.5],[-60.2,15.5],[-59.8,14.2],[-60,16.5],[-78,25],[-76,24.2],[-74.5,22.5],[-73,21]];

const wave = {mjo:'#000000',kelvin:'#0000ff',low:'#a020f0',er:'#ff0000'};
const panelLayout = [
{id:'25-oct',x:101,y:39,w:636,h:141},{id:'28-oct',x:101,y:264,w:636,h:141},{id:'31-oct',x:101,y:489,w:636,h:141},{id:'3-nov',x:101,y:714,w:636,h:141},
{id:'6-nov',x:844,y:39,w:635,h:141},{id:'9-nov',x:844,y:264,w:635,h:141},{id:'12-nov',x:844,y:489,w:635,h:141},{id:'15-nov',x:844,y:714,w:635,h:141}];
const panelWinds = [windOct25,windOct28,windOct31,windNov3,windNov6,windNov9,windNov12,windNov15];
const panelLows = [lowOct25,lowOct28,lowOct31,lowNov3,lowNov6,lowNov9,lowNov12,lowNov15];
const panelMjo = [mjoOct25,mjoOct28,mjoOct31,mjoNov3,mjoNov6,mjoNov9,mjoNov12,mjoNov15];
const panelEr = [erOct25,erOct28,erOct31,erNov3,erNov6,erNov9,erNov12,erNov15];
const panelKelvin = [kelvinOct25,kelvinOct28,kelvinOct31,kelvinNov3,kelvinNov6,kelvinNov9,kelvinNov12,kelvinNov15];
const cycloneTrack = [[-46.3,27.2]];

const NS = 'http://www.w3.org/2000/svg';
function mk(tag, attrs, parent){
  const el = document.createElementNS(NS, tag);
  for (const k in attrs) el.setAttribute(k, attrs[k]);
  if (parent) parent.appendChild(el);
  return el;
}
function lonX(p, lon){ return p.x + (lon + 90) * p.w / 180; }
function latY(p, lat){ return p.y + (30 - lat) * p.h / 40; }
function cr(a,b,c,d,t){ return 0.5*((2*b)+(-a+c)*t+(2*a-5*b+4*c-d)*t*t+(-a+3*b-3*c+d)*t*t*t); }
function sample(grid, lon, lat){
  const nx = gridLons.length, ny = gridLats.length;
  const fx = Math.max(0, Math.min(nx-1.0001, (lon - gridLons[0]) / (gridLons[1]-gridLons[0])));
  const fy = Math.max(0, Math.min(ny-1.0001, (gridLats[0] - lat) / (gridLats[0]-gridLats[1])));
  const ix = Math.floor(fx), iy = Math.floor(fy), tx = fx-ix, ty = fy-iy;
  const vals = [];
  for (let j=-1;j<=2;j++){
    const r = grid[Math.max(0,Math.min(ny-1,iy+j))];
    vals.push(cr(r[Math.max(0,ix-1)], r[ix], r[Math.min(nx-1,ix+1)], r[Math.min(nx-1,ix+2)], tx));
  }
  return cr(vals[0],vals[1],vals[2],vals[3],ty);
}
function binOf(v){ let i=0; while(i<levels.length && v>=levels[i]) i++; return i; }
function isOpen(pts){
  const edge = q => Math.abs(q[0])>=89 || q[1]>=29 || q[1]<=-9;
  return edge(pts[0]) || edge(pts[pts.length-1]);
}
function smoothPath(p, pts){
  const xy = pts.map(q=>[lonX(p,q[0]),latY(p,q[1])]);
  const n = xy.length;
  if (n<3) return 'M'+xy.map(q=>q[0].toFixed(1)+','+q[1].toFixed(1)).join(' L');
  const open = isOpen(pts);
  const at = i => open ? xy[Math.max(0,Math.min(n-1,i))] : xy[(i+n)%n];
  let d = 'M'+xy[0][0].toFixed(1)+','+xy[0][1].toFixed(1);
  const segs = open ? n-1 : n;
  for (let i=0;i<segs;i++){
    const a=at(i-1),b=at(i),c=at(i+1),e=at(i+2);
    d += ' C'+(b[0]+(c[0]-a[0])/6).toFixed(1)+','+(b[1]+(c[1]-a[1])/6).toFixed(1)+' '+(c[0]-(e[0]-b[0])/6).toFixed(1)+','+(c[1]-(e[1]-b[1])/6).toFixed(1)+' '+c[0].toFixed(1)+','+c[1].toFixed(1);
  }
  return d + (open?'':' Z');
}
function drawHeat(g, p, grid){
  const step = 1;
  for (let py=0;py<p.h;py+=step){
    const lat = 30-(py+step/2)/p.h*40;
    let start=0, cur=-1;
    for (let px=0;px<=p.w;px+=step){
      const b = px<p.w ? binOf(sample(grid, -90+(px+step/2)/p.w*180, lat)) : -2;
      if (b!==cur){
        if (cur>=0){
          const r = mk('rect',{x:p.x+start,y:p.y+py,width:px-start,height:step,fill:levelColors[cur]},g);
          
          
        }
        start=px; cur=b;
      }
    }
  }
}
const panelsRoot = document.getElementById('panels');
const defs = mk('defs',{},panelsRoot);
panelLayout.forEach(function(p, idx){
  const cp = mk('clipPath',{id:'clip'+idx},defs);
  mk('rect',{x:p.x,y:p.y,width:p.w,height:p.h},cp);
  const g = mk('g',{},panelsRoot);
  
  
  const heat = mk('g',{'shape-rendering':'crispEdges'},g);
  
  
  drawHeat(heat, p, panelWinds[idx]);
  const inner = mk('g',{'clip-path':'url(#clip'+idx+')'},g);
  const coast = mk('g',{fill:'none',stroke:'#666','stroke-width':1.7,'stroke-linejoin':'round'},inner);
  
  
  coastlines.forEach(function(line){
    const d = 'M'+line.map(q=>lonX(p,q[0]).toFixed(1)+','+latY(p,q[1]).toFixed(1)).join(' L');
    const c = mk('path',{d:d},coast);
    
    
  });
  smallIslands.forEach(function(q){
    const c = mk('circle',{cx:lonX(p,q[0]),cy:latY(p,q[1]),r:1.6,fill:'#666',stroke:'none'},coast);
    
    
  });
  const eq = mk('line',{x1:p.x,x2:p.x+p.w,y1:latY(p,0),y2:latY(p,0),stroke:'#444','stroke-width':1.4,'stroke-dasharray':'6 4'},inner);
  
  
  const pm = mk('line',{x1:lonX(p,0),x2:lonX(p,0),y1:latY(p,4),y2:p.y+p.h,stroke:'#444','stroke-width':1.4,'stroke-dasharray':'6 4'},inner);
  
  
  [['low',panelLows[idx]],['er',panelEr[idx]],['kelvin',panelKelvin[idx]],['mjo',panelMjo[idx]]].forEach(function(s){
    s[1].forEach(function(pts){
      const c = mk('path',{d:smoothPath(p,pts),fill:'none',stroke:wave[s[0]],'stroke-width':2},inner);
      
      
    });
  });
  if (idx===0){
    cycloneTrack.forEach(function(q){
      const cx=lonX(p,q[0]), cy=latY(p,q[1]);
      const o = mk('circle',{cx:cx,cy:cy,r:6.5,fill:'#c8102e',stroke:'#222','stroke-width':1},inner);
      
      
      mk('circle',{cx:cx,cy:cy,r:3.2,fill:'#fff'},inner);
      mk('circle',{cx:cx,cy:cy,r:1.3,fill:'#c8102e'},inner);
    });
  }
  const frame = mk('rect',{x:p.x,y:p.y,width:p.w,height:p.h,fill:'none',stroke:'#000','stroke-width':3},g);
  
  
  const ticks = mk('g',{stroke:'#000'},g);
  
  
  for (let lon=-90;lon<=90;lon+=10){
    const x = lonX(p,lon), major = lon%60===0;
    mk('line',{x1:x,x2:x,y1:p.y-(major?5:3),y2:p.y,'stroke-width':major?2:1.5},ticks);
    mk('line',{x1:x,x2:x,y1:p.y+p.h,y2:p.y+p.h+(major?5:3),'stroke-width':major?2:1.5},ticks);
  }
  for (let lat=-10;lat<=30;lat+=2){
    const y = latY(p,lat), major = lat%10===0;
    mk('line',{x1:p.x-(major?5:2.5),x2:p.x,y1:y,y2:y,'stroke-width':major?2:1},ticks);
    mk('line',{x1:p.x+p.w,x2:p.x+p.w+(major?5:2.5),y1:y,y2:y,'stroke-width':major?2:1},ticks);
  }
  if (idx<4){
    latTickLabels.forEach(function(lbl,i){
      const t = mk('text',{x:74,y:latY(p,latTickValues[i])+12,'text-anchor':'end','font-size':34.4},g);
      t.textContent = lbl;
      
      
    });
  }
  if (idx===3||idx===7){
    lonTickLabels.forEach(function(lbl,i){
      const t = mk('text',{x:lonX(p,lonTickValues[i])-0.5,y:911,'text-anchor':'middle','font-size':34.4},g);
      t.textContent = lbl;
      
      
    });
  }
});
const cbar = document.getElementById('colorbar');
const cbarX = 229, cbarW = 604, cbarY = 971.5, cbarH = 23.5;
levelColors.forEach(function(col,i){
  const w = cbarW/levelColors.length;
  const r = mk('rect',{x:cbarX+i*w,y:cbarY,width:w,height:cbarH,fill:col,stroke:'#000','stroke-width':1.2},cbar);
  
  
});
levels.forEach(function(v,i){
  const w = cbarW/levelColors.length;
  const t = mk('text',{x:cbarX+(i+1)*w,y:1023,'text-anchor':'middle','font-size':30},cbar);
  t.textContent = String(v);
  
  
});
</script>
</body>
</html>
